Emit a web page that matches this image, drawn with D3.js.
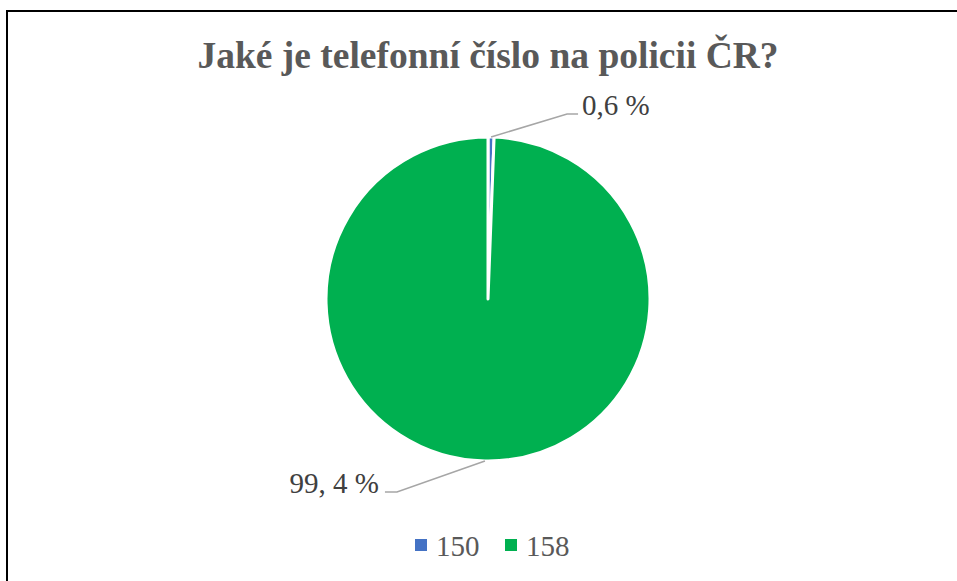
<!DOCTYPE html>
<html>
<head>
<meta charset="utf-8">
<script src="https://cdn.jsdelivr.net/npm/d3@7"></script>
<style>
  body { margin: 0; background: #fff; }
  svg { display: block; }
</style>
</head>
<body>
<svg id="chart" width="957" height="581"></svg>
<script>
// data
const categories = ['150', '158'];
const values = [0.6, 99.4];
const labels = ['0,6 %', '99, 4 %'];
const colors = ['#4472C4', '#00B050'];

const serif = '"Liberation Serif", "Times New Roman", Times, serif';

const svg = d3.select('#chart');
const width = +svg.attr('width');
const height = +svg.attr('height');

// frame (only left/top edges visible in the shot)
svg.append('rect')
  .attr('x', 7).attr('y', 11)
  .attr('width', width + 20).attr('height', height + 20)
  .attr('fill', '#fff')
  .attr('stroke', '#000')
  .attr('stroke-width', 2);

// title
svg.append('text')
  .attr('x', 488).attr('y', 68)
  .attr('text-anchor', 'middle')
  .style('font-family', serif)
  .style('font-weight', 'bold')
  .style('font-size', '37.5px')
  .attr('fill', '#595959')
  .text('Jaké je telefonní číslo na policii ČR?');

const cx = 488, cy = 299, radius = 162;

const pie = d3.pie().sort(null).value(d => d.value);
const arcs = pie(categories.map((c, i) => ({ cat: c, value: values[i], label: labels[i], color: colors[i] })));
const arc = d3.arc().innerRadius(0).outerRadius(radius);

const g = svg.append('g').attr('transform', `translate(${cx},${cy})`);

g.selectAll('path')
  .data(arcs)
  .join('path')
  .attr('d', arc)
  .attr('fill', d => d.data.color)
  .attr('stroke', '#fff')
  .attr('stroke-width', 3)
  .attr('stroke-linejoin', 'round');

// leader lines + labels
const elbow = [[76, -23], [-88, 31]];   // offset from slice edge to bend
const tail = [11, -12];                  // horizontal run after bend

arcs.forEach((d, i) => {
  const mid = (d.startAngle + d.endAngle) / 2;
  const p0 = [radius * Math.sin(mid), -radius * Math.cos(mid)];
  const p1 = [p0[0] + elbow[i][0], p0[1] + elbow[i][1]];
  const p2 = [p1[0] + tail[i], p1[1]];
  g.append('polyline')
    .attr('points', [p0, p1, p2].map(p => p.join(',')).join(' '))
    .attr('fill', 'none')
    .attr('stroke', '#A6A6A6')
    .attr('stroke-width', 1.5);
  const right = tail[i] > 0;
  g.append('text')
    .attr('x', p2[0] + (right ? 4 : -6))
    .attr('y', p2[1] + 1)
    .attr('text-anchor', right ? 'start' : 'end')
    .style('font-family', serif)
    .style('font-size', '29px')
    .attr('fill', '#404040')
    .text(d.data.label);
});

// legend
const legend = svg.append('g').attr('transform', 'translate(415,539)');
const item = legend.selectAll('g')
  .data(categories)
  .join('g')
  .attr('transform', (d, i) => `translate(${i * 90},0)`);
item.append('rect')
  .attr('width', 12).attr('height', 12)
  .attr('fill', (d, i) => colors[i]);
item.append('text')
  .attr('x', 21).attr('y', 17)
  .style('font-family', serif)
  .style('font-size', '29px')
  .attr('fill', '#595959')
  .text(d => d);
</script>
</body>
</html>
